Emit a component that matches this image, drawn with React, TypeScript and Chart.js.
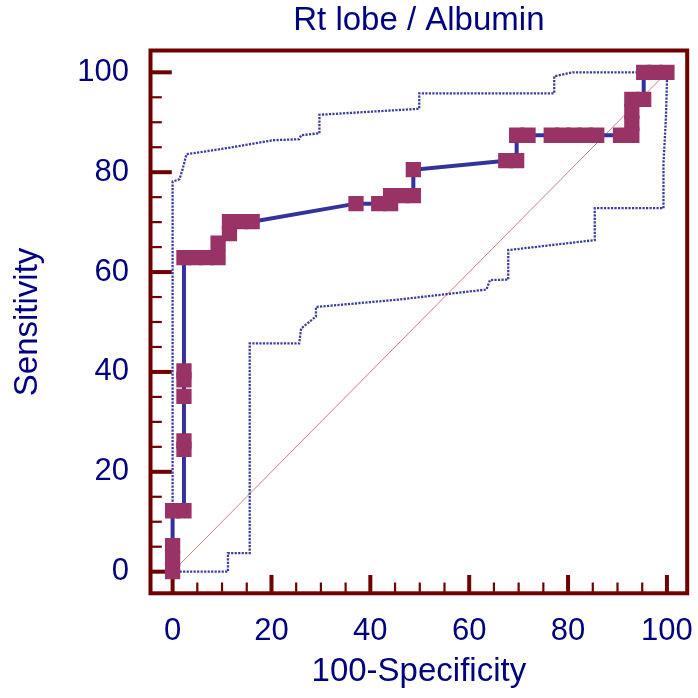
import React, { useEffect, useRef } from "react";
import { Chart, registerables } from "chart.js";

Chart.register(...registerables);

const TITLE = "Rt lobe / Albumin";
const X_TITLE = "100-Specificity";
const Y_TITLE = "Sensitivity";
const TICK_VALUES = [0, 20, 40, 60, 80, 100];
const MINOR_VALUES = [0, 5, 10, 15, 20, 25, 30, 35, 40, 45, 50, 55, 60, 65, 70, 75, 80, 85, 90, 95, 100];

// ROC curve points (100-Specificity, Sensitivity)
const rocX = [0, 0, 0, 0, 2.3, 2.3, 2.3, 2.3, 2.3, 2.3, 2.3, 4.6, 6.9, 9.2, 9.2, 11.5, 11.5, 13.8, 16.1, 37.1, 41.7, 44.1, 44.1, 46.4, 48.7, 48.7, 67.4, 69.6, 69.6, 71.9, 76.6, 78.9, 81.2, 83.5, 85.8, 90.6, 92.9, 92.9, 92.9, 92.9, 95.3, 95.3, 97.6, 100];
const rocY = [0, 2.6, 5.2, 12.2, 12.2, 24.5, 26.2, 35.1, 38.4, 40.2, 62.9, 62.9, 62.9, 62.9, 65.8, 67.7, 70.1, 70.1, 70.1, 73.7, 73.7, 73.7, 75.3, 75.3, 75.3, 80.5, 82.3, 82.3, 87.4, 87.4, 87.4, 87.4, 87.4, 87.4, 87.4, 87.4, 87.4, 89.8, 92.2, 94.6, 94.6, 100, 100, 100];

// Upper confidence bound
const upperX = [0, 0, 1.4, 2.0, 2.8, 10.9, 20.3, 25.6, 26.0, 29.7, 29.7, 49.9, 49.9, 77.2, 77.2, 81.0, 100];
const upperY = [0, 78.1, 78.6, 80.5, 83.6, 84.8, 86.4, 86.6, 87.4, 87.8, 91.5, 92.7, 95.8, 95.8, 99.2, 100, 100];

// Lower confidence bound
const lowerX = [0, 11.2, 11.2, 15.6, 15.6, 25.6, 26.0, 29.0, 29.0, 45.8, 63.5, 64.2, 67.9, 67.9, 85.4, 85.4, 99.3, 99.3, 99.8, 100, 100];
const lowerY = [0, 0, 3.7, 3.7, 45.7, 45.7, 48.7, 51.1, 53.0, 54.5, 56.5, 58.4, 58.5, 64.4, 66.4, 72.8, 72.8, 81.8, 91.0, 98.0, 100];

// Reference diagonal
const diagX = [0, 100];
const diagY = [0, 100];

const NAVY = "#000080";
const FRAME = "#700000";
const LINE_BLUE = "#333399";
const MARKER = "#993366";
const FONT = "'Liberation Sans', Arial, sans-serif";

const pts = (xs: number[], ys: number[]) => xs.map((x, i) => ({ x, y: ys[i] }));

const framePlugin = {
  id: "frameTicks",
  beforeDatasetsDraw(chart: any) {
    const { ctx, chartArea: a, scales } = chart;
    const xs = scales.x;
    const ys = scales.y;
    ctx.save();
    ctx.strokeStyle = FRAME;
    ctx.lineCap = "butt";
    MINOR_VALUES.forEach((v) => {
      const major = TICK_VALUES.includes(v);
      ctx.lineWidth = major ? 4 : 2.2;
      const py = ys.getPixelForValue(v);
      ctx.beginPath();
      ctx.moveTo(a.left, py);
      ctx.lineTo(a.left + (major ? 21.3 : 11.3), py);
      ctx.stroke();
      const px = xs.getPixelForValue(v);
      ctx.beginPath();
      ctx.moveTo(px, a.bottom);
      ctx.lineTo(px, a.bottom - (major ? 18.3 : 10.8));
      ctx.stroke();
    });
    ctx.lineWidth = 4;
    ctx.strokeRect(a.left, a.top, a.right - a.left, a.bottom - a.top);
    ctx.restore();
  },
};

const zeroPadding = (s: any) => {
  s.paddingLeft = 0;
  s.paddingRight = 0;
  s.paddingTop = 0;
  s.paddingBottom = 0;
};

export default function App() {
  const ref = useRef<HTMLCanvasElement | null>(null);

  useEffect(() => {
    if (!ref.current) return;
    const chart = new Chart(ref.current, {
      type: "scatter",
      data: {
        datasets: [
          {
            label: "ROC",
            data: pts(rocX, rocY),
            showLine: true,
            borderColor: LINE_BLUE,
            borderWidth: 4,
            tension: 0,
            pointStyle: "rect",
            pointRadius: 10.8,
            pointBackgroundColor: MARKER,
            pointBorderWidth: 0,
            pointBorderColor: MARKER,
            order: 0,
          },
          {
            label: "Diagonal",
            data: pts(diagX, diagY),
            showLine: true,
            borderColor: "rgba(190,70,70,0.7)",
            borderWidth: 1,
            pointRadius: 0,
            order: 3,
          },
          {
            label: "Upper",
            data: pts(upperX, upperY),
            showLine: true,
            borderColor: "#3c3ca0",
            borderWidth: 2.3,
            borderDash: [2.2, 1.3],
            pointRadius: 0,
            order: 2,
          },
          {
            label: "Lower",
            data: pts(lowerX, lowerY),
            showLine: true,
            borderColor: "#3c3ca0",
            borderWidth: 2.3,
            borderDash: [2.2, 1.3],
            pointRadius: 0,
            order: 2,
          },
        ],
      },
      options: {
        responsive: false,
        animation: false,
        events: [],
        layout: { padding: { left: 0, right: 8.3, top: 0, bottom: 0 } },
        plugins: {
          legend: { display: false },
          tooltip: { enabled: false },
          title: {
            display: true,
            text: TITLE,
            color: NAVY,
            fullSize: false,
            font: { family: FONT, size: 33, weight: "normal" },
            padding: { top: 1.2, bottom: 9.7 },
          },
        },
        scales: {
          x: {
            type: "linear",
            min: -4.47,
            max: 104.1,
            afterBuildTicks: (s: any) => {
              s.ticks = TICK_VALUES.map((v) => ({ value: v }));
            },
            afterFit: (s: any) => {
              s.height = 104.7;
              zeroPadding(s);
            },
            grid: { display: false },
            border: { display: false },
            ticks: {
              color: NAVY,
              font: { family: FONT, size: 31 },
              padding: 12,
              maxRotation: 0,
              autoSkip: false,
            },
            title: {
              display: true,
              text: X_TITLE,
              color: NAVY,
              font: { family: FONT, size: 33 },
              padding: { top: 0, bottom: 6.3 },
            },
          },
          y: {
            type: "linear",
            min: -4.33,
            max: 104.37,
            afterBuildTicks: (s: any) => {
              s.ticks = TICK_VALUES.map((v) => ({ value: v }));
            },
            afterFit: (s: any) => {
              s.width = 150.5;
              zeroPadding(s);
            },
            grid: { display: false },
            border: { display: false },
            ticks: {
              color: NAVY,
              font: { family: FONT, size: 31 },
              padding: 13.5,
              autoSkip: false,
            },
            title: {
              display: true,
              text: Y_TITLE,
              color: NAVY,
              font: { family: FONT, size: 33 },
              padding: { top: 8.6, bottom: 0 },
            },
          },
        },
      } as any,
      plugins: [framePlugin],
    });
    return () => chart.destroy();
  }, []);

  return (
    <div style={{ position: "absolute", left: 0, top: 0, width: 698, height: 698, background: "#ffffff" }}>
      <canvas ref={ref} width={698} height={698} style={{ display: "block" }} />
    </div>
  );
}
